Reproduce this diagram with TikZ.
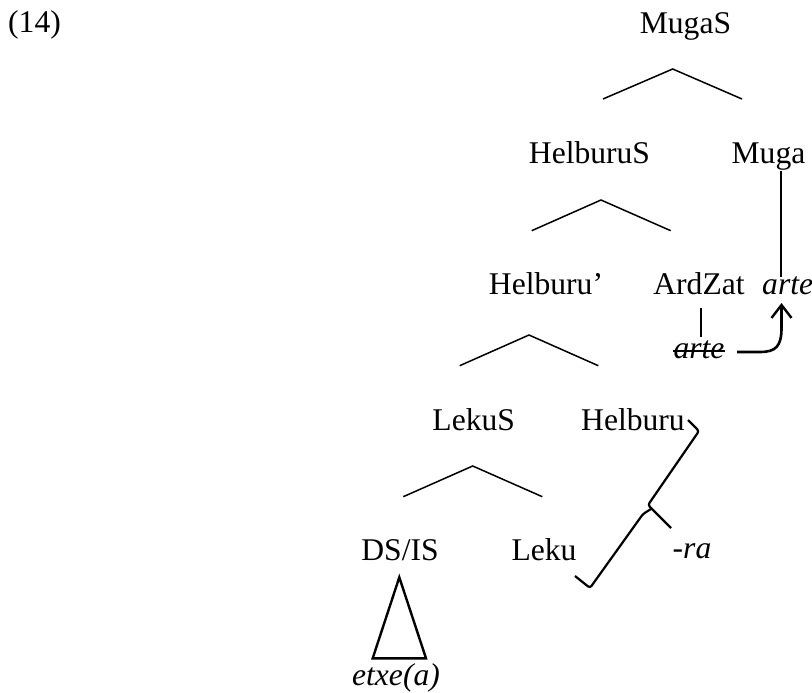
\documentclass[tikz,border=0pt]{standalone}
\usepackage{fontspec}
\setmainfont{Liberation Serif}
\usetikzlibrary{arrows.meta}
\begin{document}
\begin{tikzpicture}[x=1pt,y=-1pt,
  lbl/.style={inner sep=0pt,anchor=base,font=\fontsize{31.6}{36}\selectfont},
  caret/.style={line width=1.5pt,line join=miter},
  thickline/.style={line width=2.7pt},
  bracket/.style={line width=2.2pt,rounded corners=2.5pt},
  movearrow/.style={line width=2.6pt,-{Straight Barb[length=13pt,width=20pt,line width=2.4pt]}}]
\useasboundingbox (0,0) rectangle (812,693);

% labels
\node[lbl,anchor=base west] (ex) at (8,33) {(14)};
\node[lbl] (mugaS) at (685.5,34) {MugaS};
\node[lbl] (helS) at (589.5,163) {HelburuS};
\node[lbl] (muga) at (768.5,163) {Muga};
\node[lbl] (helbar) at (546,294) {Helburu’};
\node[lbl] (ardzat) at (699,294) {ArdZat};
\node[lbl,anchor=base west] (arte) at (762,294) {\itshape arte};
\node[lbl] (sarte) at (699,358) {\itshape arte};
\node[lbl] (lekuS) at (473.7,430) {LekuS};
\node[lbl] (hel) at (633,430) {Helburu};
\node[lbl] (dsis) at (400,560) {DS/IS};
\node[lbl] (leku) at (544,560.5) {Leku};
\node[lbl] (ra) at (692,558) {\itshape -ra};
\node[lbl] (etxe) at (396,685) {\itshape etxe(a)};

% strike-through of the moved copy
\draw[line width=2pt] (sarte.west |- 0,351) -- (sarte.east |- 0,351);

% branching carets
\coordinate (c1) at (672.7,69);
\coordinate (c2) at (601,200);
\coordinate (c3) at (529,335);
\coordinate (c4) at (472.7,466);
\draw[caret] (603,99) -- (c1) -- (742,99);
\draw[caret] (531.7,230.7) -- (c2) -- (670.7,230.7);
\draw[caret] (459.7,365.7) -- (c3) -- (598.3,365.7);
\draw[caret] (403.3,496.7) -- (c4) -- (542.3,496.7);

% vertical links
\coordinate (mugaFoot) at (781,170.5);
\coordinate (arteTop) at (781,277);
\draw[thickline] (mugaFoot) -- (arteTop);
\coordinate (ardFoot) at (701,308);
\coordinate (sarteTop) at (701,337);
\draw[thickline] (ardFoot) -- (sarteTop);

% movement arrow
\coordinate (mvStart) at (737,352);
\coordinate (mvEnd) at (781.5,303);
\draw[movearrow] (mvStart) -- (760,352) .. controls (776,352) and (781.5,346) .. (781.5,328) -- (mvEnd);

% triangle over etxe(a)
\draw[line width=2.4pt,line join=miter] (399.3,577.3) -- (426,658.3) -- (372.7,658.3) -- cycle;

% rotated brace joining Helburu and Leku, pointing to -ra
\draw[bracket] (688,420) -- (699,431) -- (648,505) -- (671,528);
\draw[bracket] (651,509) -- (643,514) -- (590,588) -- (575,576);
\end{tikzpicture}
\end{document}
